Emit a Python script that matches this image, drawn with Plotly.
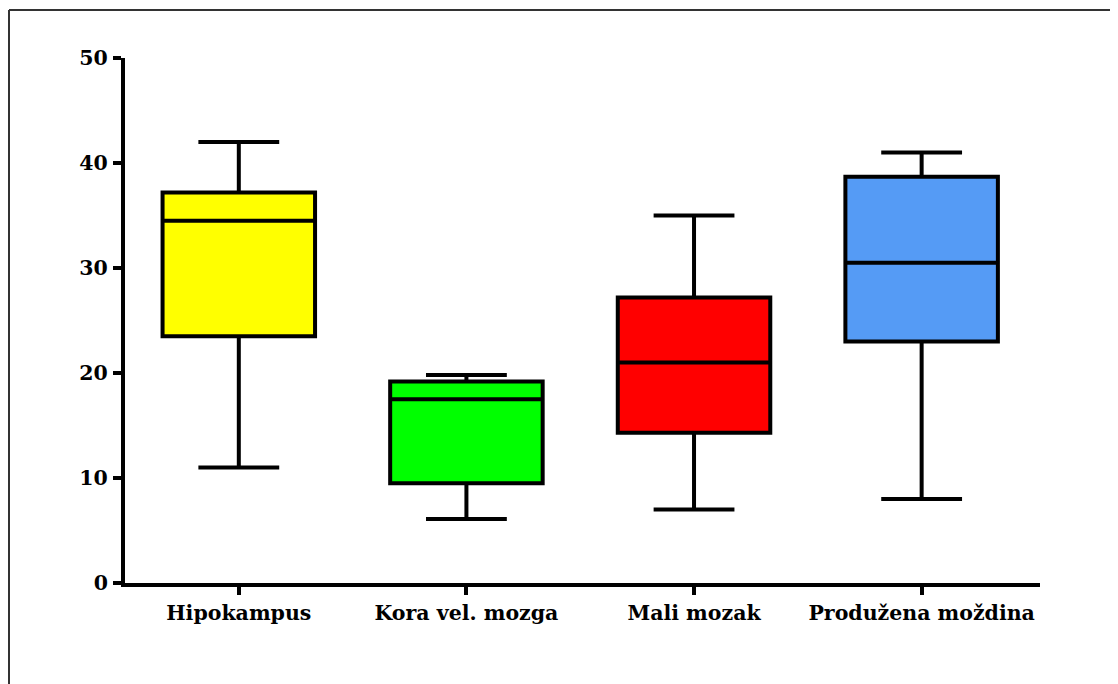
import plotly.graph_objects as go

categories = ["Hipokampus", "Kora vel. mozga", "Mali mozak", "Produžena moždina"]
lower_whisker = [11.0, 6.1, 7.0, 8.0]
q1_values = [23.5, 9.5, 14.3, 23.0]
medians = [34.5, 17.5, 21.0, 30.5]
q3_values = [37.2, 19.2, 27.2, 38.7]
upper_whisker = [42.0, 19.8, 35.0, 41.0]
colors = ["#FFFF00", "#00FF00", "#FF0000", "#559BF5"]
y_ticks = [0, 10, 20, 30, 40, 50]

# page body has an 8px margin, so the figure is drawn slightly smaller
OFF = 8
W, H = 1118 - OFF, 684 - OFF
ML, MR, MT, MB = 125 - OFF, 78, 58 - OFF, 101

fig = go.Figure()
for i, cat in enumerate(categories):
    fig.add_trace(go.Box(
        x=[cat],
        q1=[q1_values[i]], median=[medians[i]], q3=[q3_values[i]],
        lowerfence=[lower_whisker[i]], upperfence=[upper_whisker[i]],
        fillcolor=colors[i],
        line=dict(color="black", width=4),
        width=0.67,
        whiskerwidth=0.53,
        boxpoints=False,
        showlegend=False,
        hoverinfo="skip",
    ))

tfont = dict(family="DejaVu Serif", size=20.5, color="black", weight="bold")

pw = W - ML - MR
ph = H - MT - MB
def px_x(p):
    return (p - OFF - ML) / pw
def px_y(p):
    return (H - MB - (p - OFF)) / ph

fig.update_layout(
    width=W, height=H,
    margin=dict(l=ML, r=MR, t=MT, b=MB),
    paper_bgcolor="white", plot_bgcolor="white",
    boxmode="overlay",
    xaxis=dict(
        categoryorder="array", categoryarray=categories,
        range=[-0.5, 3.52],
        showline=True, linecolor="black", linewidth=4,
        ticks="outside", ticklen=8, tickwidth=4, tickcolor="black",
        showgrid=False, zeroline=False,
        tickfont=tfont,
    ),
    yaxis=dict(
        range=[0, 50], tickvals=y_ticks,
        showline=True, linecolor="black", linewidth=4,
        ticks="outside", ticklen=8, tickwidth=4, tickcolor="black",
        showgrid=False, zeroline=False,
        ticklabelstandoff=1,
        tickfont=tfont,
    ),
    shapes=[
        dict(type="line", xref="paper", yref="paper",
             x0=px_x(9), x1=px_x(9), y0=px_y(10), y1=px_y(700),
             line=dict(color="#333333", width=2)),
        dict(type="line", xref="paper", yref="paper",
             x0=px_x(9), x1=px_x(1130), y0=px_y(10), y1=px_y(10),
             line=dict(color="#333333", width=2)),
    ],
)

fig.write_html("out.html")
